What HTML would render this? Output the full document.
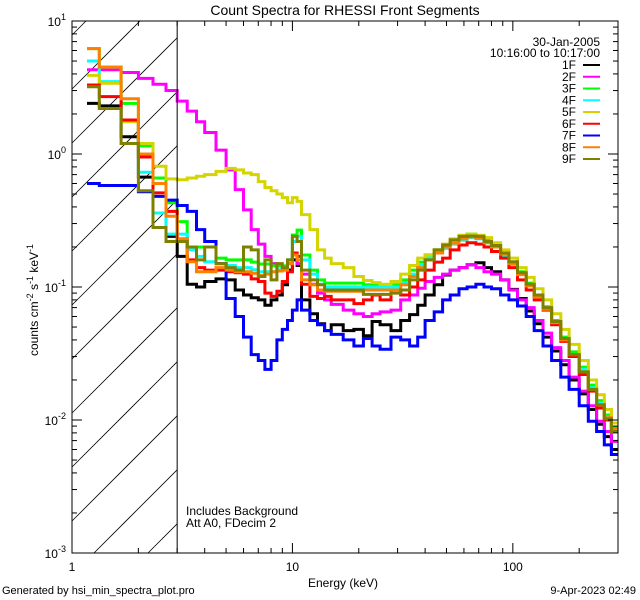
<!DOCTYPE html>
<html><head><meta charset="utf-8"><style>
html,body{margin:0;padding:0;background:#fff;width:640px;height:600px;overflow:hidden;}
svg{display:block;}
svg text{font-family:"Liberation Sans",sans-serif;fill:#000;}
</style></head><body>
<svg id="chart" width="640" height="600" xmlns="http://www.w3.org/2000/svg">
<rect width="640" height="600" fill="#fff"/>
<text x="345" y="15" font-size="14" text-anchor="middle">Count Spectra for RHESSI Front Segments</text>
<g id="hatch"></g>
<g id="series"></g>
<g id="axes"></g>
<text transform="translate(38,300) rotate(-90)" font-size="12" text-anchor="middle">counts cm<tspan dy="-5" font-size="9">-2</tspan><tspan dy="5"> s</tspan><tspan dy="-5" font-size="9">-1</tspan><tspan dy="5"> keV</tspan><tspan dy="-5" font-size="9">-1</tspan></text>
<text x="343" y="587" font-size="12" text-anchor="middle">Energy (keV)</text>
<text x="600" y="46" font-size="12" text-anchor="end">30-Jan-2005</text>
<text x="600" y="57" font-size="12" text-anchor="end">10:16:00 to 10:17:00</text>
<g id="legend"></g>
<text x="186" y="515" font-size="12">Includes Background</text>
<text x="186" y="527" font-size="12">Att A0, FDecim 2</text>
<text x="2" y="594" font-size="11">Generated by hsi_min_spectra_plot.pro</text>
<text x="636" y="594" font-size="11" text-anchor="end">9-Apr-2023 02:49</text>
</svg>
<script>
const energyEdges=[1.17,1.33,1.67,2,2.33,2.67,3,3.33,3.67,4,4.5,5,5.5,6,6.5,7,7.5,8,8.5,9,9.5,10,10.5,11,12,13,14,15,17,19,21,23,25,28,31,34,37,40,44,48,52,57,62,68,74,80,88,96,105,115,125,137,150,165,180,200,220,240,260,280,300];
const seriesNames=["1F","2F","3F","4F","5F","6F","7F","8F","9F"];
const seriesColors=["#000000","#ff00ff","#00ff00","#00ffff","#d4d400","#ff0000","#0000ff","#ff8000","#808000"];
const s1F=[2.4,2.3,1.35,0.67,0.36,0.24,0.17,0.105,0.1,0.11,0.115,0.113,0.095,0.087,0.083,0.08,0.073,0.08,0.087,0.104,0.134,0.16,0.145,0.08,0.063,0.053,0.047,0.052,0.047,0.048,0.043,0.055,0.052,0.047,0.056,0.062,0.073,0.087,0.104,0.123,0.134,0.14,0.147,0.152,0.14,0.13,0.113,0.096,0.082,0.066,0.053,0.042,0.033,0.026,0.02,0.0157,0.012,0.0093,0.0075,0.006];
const s2F=[4.3,4.3,4.1,3.7,3.35,3.0,2.5,2.1,1.75,1.45,1.07,0.76,0.54,0.38,0.27,0.21,0.17,0.15,0.144,0.14,0.15,0.18,0.15,0.125,0.105,0.09,0.08,0.074,0.067,0.063,0.06,0.063,0.065,0.067,0.08,0.087,0.098,0.11,0.118,0.125,0.134,0.14,0.147,0.14,0.13,0.125,0.113,0.095,0.08,0.07,0.056,0.045,0.035,0.028,0.021,0.0165,0.0128,0.0098,0.0082,0.0069];
const s3F=[6.2,4.5,2.4,1.15,0.66,0.43,0.31,0.2,0.2,0.2,0.165,0.16,0.16,0.16,0.154,0.149,0.149,0.144,0.144,0.144,0.16,0.246,0.268,0.174,0.134,0.113,0.107,0.107,0.107,0.107,0.104,0.104,0.104,0.104,0.113,0.134,0.154,0.174,0.19,0.207,0.226,0.242,0.25,0.242,0.226,0.207,0.18,0.154,0.13,0.107,0.087,0.071,0.056,0.042,0.0325,0.025,0.0183,0.014,0.0109,0.0087];
const s4F=[5.0,3.5,1.8,0.73,0.36,0.25,0.25,0.19,0.17,0.155,0.15,0.145,0.14,0.14,0.135,0.13,0.13,0.13,0.135,0.14,0.16,0.22,0.24,0.16,0.125,0.105,0.1,0.1,0.1,0.1,0.1,0.1,0.1,0.1,0.108,0.125,0.145,0.165,0.18,0.195,0.21,0.225,0.235,0.23,0.215,0.2,0.172,0.148,0.125,0.103,0.084,0.068,0.054,0.041,0.031,0.024,0.0175,0.0134,0.0105,0.0083];
const s5F=[3.9,3.4,1.75,1.2,0.81,0.65,0.64,0.66,0.68,0.7,0.74,0.78,0.76,0.72,0.7,0.62,0.56,0.53,0.5,0.47,0.43,0.47,0.44,0.35,0.27,0.19,0.165,0.15,0.14,0.12,0.112,0.108,0.105,0.11,0.125,0.145,0.165,0.175,0.19,0.21,0.23,0.245,0.25,0.245,0.235,0.215,0.19,0.165,0.14,0.118,0.097,0.08,0.063,0.048,0.037,0.028,0.02,0.0155,0.012,0.0095];
const s6F=[3.3,2.7,1.8,0.95,0.51,0.37,0.23,0.16,0.14,0.134,0.134,0.13,0.128,0.125,0.115,0.11,0.09,0.085,0.093,0.11,0.13,0.18,0.17,0.105,0.085,0.082,0.085,0.08,0.08,0.075,0.08,0.087,0.08,0.095,0.087,0.1,0.113,0.134,0.154,0.165,0.19,0.207,0.215,0.21,0.2,0.185,0.165,0.14,0.113,0.095,0.08,0.067,0.052,0.039,0.03,0.022,0.0165,0.0123,0.01,0.0085];
const s7F=[0.6,0.58,0.58,0.52,0.48,0.45,0.41,0.37,0.27,0.22,0.15,0.082,0.06,0.042,0.031,0.028,0.024,0.028,0.04,0.048,0.056,0.067,0.08,0.067,0.056,0.052,0.047,0.044,0.04,0.036,0.041,0.036,0.034,0.042,0.04,0.036,0.042,0.056,0.065,0.08,0.087,0.097,0.1,0.105,0.1,0.097,0.087,0.08,0.072,0.06,0.047,0.036,0.028,0.021,0.017,0.0128,0.0098,0.0082,0.0065,0.0055];
const s8F=[6.2,4.5,2.6,1.0,0.6,0.34,0.23,0.155,0.13,0.13,0.14,0.134,0.13,0.13,0.127,0.122,0.125,0.13,0.132,0.134,0.15,0.174,0.16,0.113,0.104,0.095,0.093,0.093,0.093,0.093,0.095,0.095,0.095,0.095,0.104,0.12,0.14,0.16,0.18,0.2,0.214,0.23,0.238,0.232,0.215,0.2,0.177,0.15,0.124,0.102,0.084,0.068,0.054,0.04,0.031,0.023,0.017,0.013,0.0104,0.0085];
const s9F=[3.2,2.2,1.2,0.53,0.28,0.22,0.22,0.2,0.16,0.2,0.15,0.14,0.134,0.2,0.19,0.12,0.16,0.113,0.15,0.14,0.16,0.24,0.22,0.134,0.113,0.104,0.095,0.095,0.095,0.095,0.088,0.088,0.088,0.09,0.095,0.113,0.134,0.16,0.19,0.207,0.226,0.24,0.242,0.24,0.22,0.205,0.18,0.155,0.128,0.105,0.087,0.07,0.055,0.041,0.031,0.023,0.017,0.013,0.0102,0.0082];
const seriesValues=[s1F,s2F,s3F,s4F,s5F,s6F,s7F,s8F,s9F];
const xTickLabels=["1","10","100"];
const yTickExps=["1","0","-1","-2","-3"];

const NS="http://www.w3.org/2000/svg";
const L=72,R=618,T=21,B=553,X0=1,X1=300,Y0=0.001,Y1=10;
function xs(e){return L+(R-L)*Math.log10(e/X0)/Math.log10(X1/X0);}
function ys(v){return B-(B-T)*Math.log10(v/Y0)/Math.log10(Y1/Y0);}
function mk(tag,attrs,parent){const el=document.createElementNS(NS,tag);for(const k in attrs)el.setAttribute(k,attrs[k]);parent.appendChild(el);return el;}

const svgEl=document.getElementById('chart');
const defs=mk('defs',{},svgEl);
const cp2=mk('clipPath',{id:'pc'},defs);
mk('rect',{x:L,y:T,width:R-L,height:B-T},cp2);

// hatch (segments computed inside region x:[L,x3], y:[T,B])
const hatch=document.getElementById('hatch');
const x3=xs(3);
for(let k=-8;k<14;k++){
  const c=305+54*k; // y at x=L
  let xa=Math.max(L,L+(c-B)), xb=Math.min(x3,L+(c-T));
  if(xb<=xa) continue;
  const ln=mk('line',{x1:xa,y1:c-(xa-L),x2:xb,y2:c-(xb-L),stroke:'#000','stroke-width':0.8},hatch);
  
  
}
const vl=mk('line',{x1:x3,y1:T,x2:x3,y2:B,stroke:'#000','stroke-width':1},document.getElementById('axes'));



// series
const sg=document.getElementById('series');
sg.setAttribute('clip-path','url(#pc)');
seriesValues.forEach((vals,si)=>{
  let d='';
  vals.forEach((v,i)=>{
    const xa=xs(energyEdges[i]),xb=xs(energyEdges[i+1]),y=ys(v);
    d+=(i===0?'M':'L')+xa.toFixed(1)+','+y.toFixed(1)+'L'+xb.toFixed(1)+','+y.toFixed(1);
  });
  const p=mk('path',{d:d,fill:'none',stroke:seriesColors[si],'stroke-width':3,'stroke-linejoin':'miter'},sg);
  
  
});

// axes
const ax=document.getElementById('axes');
const frame=mk('rect',{x:L,y:T,width:R-L,height:B-T,fill:'none',stroke:'#000','stroke-width':1},ax);


for(let dec=1;dec<=100;dec*=10){
  for(let m=1;m<=9;m++){
    const e=dec*m; if(e>X1)break;
    const x=xs(e),len=m===1?10:5;
    mk('line',{x1:x,y1:B,x2:x,y2:B-len,stroke:'#000'},ax);
    mk('line',{x1:x,y1:T,x2:x,y2:T+len,stroke:'#000'},ax);
  }
}
xTickLabels.forEach((t,i)=>{
  const tx=mk('text',{x:xs(Math.pow(10,i)),y:571,'font-size':12,'text-anchor':'middle'},ax);
  tx.textContent=t;
  
  
});
for(let ex=-3;ex<=0;ex++){
  for(let m=1;m<=9;m++){
    const v=Math.pow(10,ex)*m,y=ys(v),len=m===1?10:5;
    mk('line',{x1:L,y1:y,x2:L+len,y2:y,stroke:'#000'},ax);
    mk('line',{x1:R,y1:y,x2:R-len,y2:y,stroke:'#000'},ax);
  }
}
yTickExps.forEach(t=>{
  const y=ys(Math.pow(10,Number(t)));
  const tx=mk('text',{x:66,y:y+5,'font-size':12,'text-anchor':'end'},ax);
  tx.innerHTML='10<tspan dy="-6" font-size="9">'+t+'</tspan>';
  
  
});

// legend
const lg=document.getElementById('legend');
seriesNames.forEach((n,i)=>{
  const y=65+11.75*i;
  const t=mk('text',{x:576,y:y+4,'font-size':12,'text-anchor':'end'},lg);
  t.textContent=n;
  
  
  const l=mk('line',{x1:583,y1:y,x2:600,y2:y,stroke:seriesColors[i],'stroke-width':2},lg);
  
  
});
</script>
</body></html>
